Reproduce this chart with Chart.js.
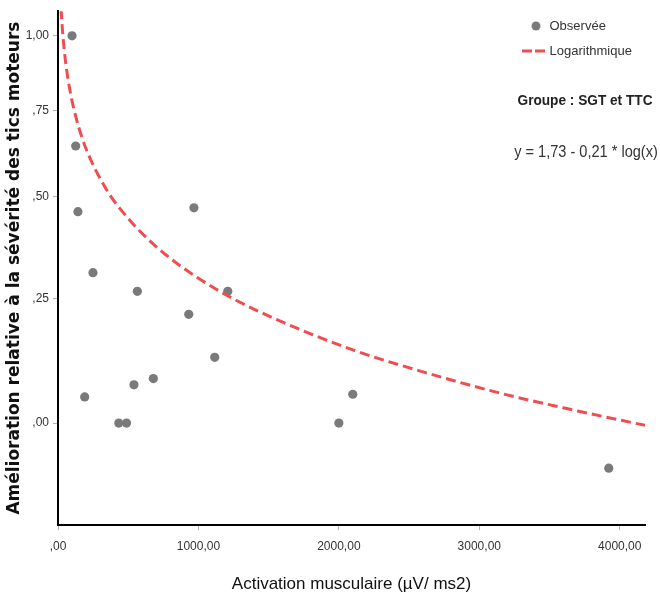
<!DOCTYPE html>
<html><head><meta charset="utf-8">
<script src="https://cdn.jsdelivr.net/npm/chart.js@4/dist/chart.umd.min.js"></script>
<style>html,body{margin:0;padding:0;background:#fff;}#wrap{width:660px;height:600px;position:relative;}</style>
</head><body><div id="wrap"><canvas id="c" width="660" height="600"></canvas></div>
<script>
// ---- data ----
const OBS_X = [100, 126, 142, 968, 249, 565, 1209, 931, 1116, 679, 541, 190, 433, 488, 2000, 2099, 3922];
const OBS_Y = [1.00, 0.642, 0.460, 0.470, 0.309, 0.266, 0.266, 0.215, 0.125, 0.083, 0.071, 0.048, 0.00, 0.00, 0.00, 0.053, -0.084];
const CURVE_X = [22, 30, 43, 60, 80, 100, 130, 170, 220, 285, 368, 450, 580, 770, 1000, 1250, 1600, 2100, 2600, 3150, 3700, 4180];
const CURVE_Y = [1.098, 1.033, 0.957, 0.887, 0.827, 0.780, 0.725, 0.668, 0.614, 0.560, 0.505, 0.464, 0.411, 0.351, 0.296, 0.249, 0.198, 0.140, 0.096, 0.055, 0.022, -0.004];
const X_TICKS = [0, 1000, 2000, 3000, 4000];
const X_TICK_LABELS = [',00', '1000,00', '2000,00', '3000,00', '4000,00'];
const Y_TICKS = [0, 0.25, 0.5, 0.75, 1];
const Y_TICK_LABELS = [',00', ',25', ',50', ',75', '1,00'];
const X_MIN = 0, X_MAX = 4180, Y_MIN = -0.2, Y_MAX = 1.09;
const SERIES_LABELS = ['Observée', 'Logarithmique'];
const GROUP_TEXT = 'Groupe : SGT et TTC';
const EQUATION_TEXT = 'y = 1,73 - 0,21 * log(x)';
const X_TITLE = 'Activation musculaire (µV/ ms2)';
const Y_TITLE = 'Amélioration relative à la sévérité des tics moteurs';

// ---- styles ----
const SANS = "'Liberation Sans', Arial, sans-serif";
const WIDE = "DejaVu Sans, Verdana, sans-serif";
const GREY = '#7a7a7a';
const RED = '#ef4d50';

// SPSS-like "safe log" axis: sign(y) * ln(1 + |y|)
const tf = v => Math.sign(v) * Math.log(1 + Math.abs(v));
const itf = t => Math.sign(t) * (Math.exp(Math.abs(t)) - 1);
class SafeLogScale extends Chart.LinearScale {
  static id = 'safelog';
  static defaults = Chart.LinearScale.defaults;
  buildTicks() { return Y_TICKS.map(v => ({ value: v })); }
  configure() {
    super.configure();
    this._t0 = tf(this.min); this._t1 = tf(this.max);
  }
  getPixelForValue(v) {
    if (v === null || v === undefined) return NaN;
    return this.getPixelForDecimal((tf(v) - this._t0) / (this._t1 - this._t0));
  }
  getValueForPixel(p) {
    return itf(this._t0 + this.getDecimalForPixel(p) * (this._t1 - this._t0));
  }
}
Chart.register(SafeLogScale);

function makeDot() {
  const c = document.createElement('canvas'); c.width = 10; c.height = 10;
  const g = c.getContext('2d'); g.fillStyle = GREY; g.beginPath(); g.arc(5, 5, 4.5, 0, Math.PI * 2); g.fill();
  return c;
}
function makeDash() {
  const c = document.createElement('canvas'); c.width = 28; c.height = 4;
  const g = c.getContext('2d'); g.strokeStyle = RED; g.lineWidth = 3; g.setLineDash([10, 3]);
  g.beginPath(); g.moveTo(0, 2); g.lineTo(24, 2); g.stroke();
  return c;
}
const DOT_ICON = makeDot(), DASH_ICON = makeDash();

function condensedText(ctx, text, cx, cy, font, color, sx) {
  ctx.save();
  ctx.font = font; ctx.fillStyle = color; ctx.textAlign = 'center'; ctx.textBaseline = 'middle';
  ctx.translate(cx, cy); ctx.scale(sx, 1);
  ctx.fillText(text, 0, 0);
  ctx.restore();
}

const extras = {
  id: 'extras',
  afterUpdate(chart) {
    const lg = chart.legend;
    if (lg) { lg.left = 517; lg.top = 7.5; lg.right = 660; lg.bottom = 200; }
  },
  afterDraw(chart) {
    const ctx = chart.ctx;
    condensedText(ctx, GROUP_TEXT, 585, 101, 'bold 15px ' + SANS, '#222', 0.91);
    condensedText(ctx, EQUATION_TEXT, 586, 153, '16px ' + SANS, '#333', 0.91);
  }
};

new Chart(document.getElementById('c'), {
  type: 'scatter',
  data: {
    datasets: [
      { label: SERIES_LABELS[0], data: OBS_X.map((x, i) => ({ x, y: OBS_Y[i] })),
        backgroundColor: GREY, borderWidth: 0, pointRadius: 4.6, pointHoverRadius: 4.6, order: 1 },
      { label: SERIES_LABELS[1], type: 'line', data: CURVE_X.map((x, i) => ({ x, y: CURVE_Y[i] })),
        borderColor: RED, borderWidth: 3, borderDash: [10, 5], pointRadius: 0, fill: false,
        cubicInterpolationMode: 'monotone', showLine: true, order: 0 }
    ]
  },
  options: {
    responsive: false, animation: false, devicePixelRatio: 1,
    layout: { padding: { top: 10, right: 15, left: 0, bottom: 0 } },
    plugins: {
      tooltip: { enabled: false },
      legend: {
        position: 'chartArea', align: 'start',
        labels: {
          usePointStyle: true, pointStyleWidth: 14, boxHeight: 10, padding: 12,
          color: '#333', font: { family: SANS, size: 13 },
          generateLabels: () => [
            { text: SERIES_LABELS[0], pointStyle: DOT_ICON, fillStyle: GREY, strokeStyle: GREY, lineWidth: 0, hidden: false, datasetIndex: 0, fontColor: '#333' },
            { text: SERIES_LABELS[1], pointStyle: DASH_ICON, fillStyle: RED, strokeStyle: RED, lineWidth: 0, hidden: false, datasetIndex: 1, fontColor: '#333' }
          ]
        }
      }
    },
    scales: {
      x: {
        type: 'linear', min: X_MIN, max: X_MAX,
        afterBuildTicks: s => { s.ticks = X_TICKS.map(v => ({ value: v })); },
        afterFit: s => { s.height = 75; },
        ticks: { callback: v => X_TICK_LABELS[X_TICKS.indexOf(v)], color: '#333', font: { family: SANS, size: 12 }, padding: 9, maxRotation: 0, autoSkip: false },
        grid: { drawOnChartArea: false, drawTicks: true, tickLength: 5, color: '#b0b0b0', tickWidth: 1 },
        border: { display: true, color: '#000', width: 2 },
        title: { display: true, text: X_TITLE, color: '#111', font: { family: SANS, size: 17 }, padding: { top: 0, bottom: 5 } }
      },
      y: {
        type: 'safelog', min: Y_MIN, max: Y_MAX,
        afterFit: s => { s.width = 58; },
        ticks: { callback: (v, i) => Y_TICK_LABELS[i], color: '#333', font: { family: SANS, size: 12 }, padding: 4, autoSkip: false },
        grid: { drawOnChartArea: false, drawTicks: true, tickLength: 5, color: '#b0b0b0', tickWidth: 1 },
        border: { display: true, color: '#000', width: 2 },
        title: { display: true, text: Y_TITLE, color: '#111', font: { family: WIDE, size: 17, weight: 'bold' }, padding: { top: 4, bottom: 0 } }
      }
    }
  },
  plugins: [extras]
});
</script></body></html>
